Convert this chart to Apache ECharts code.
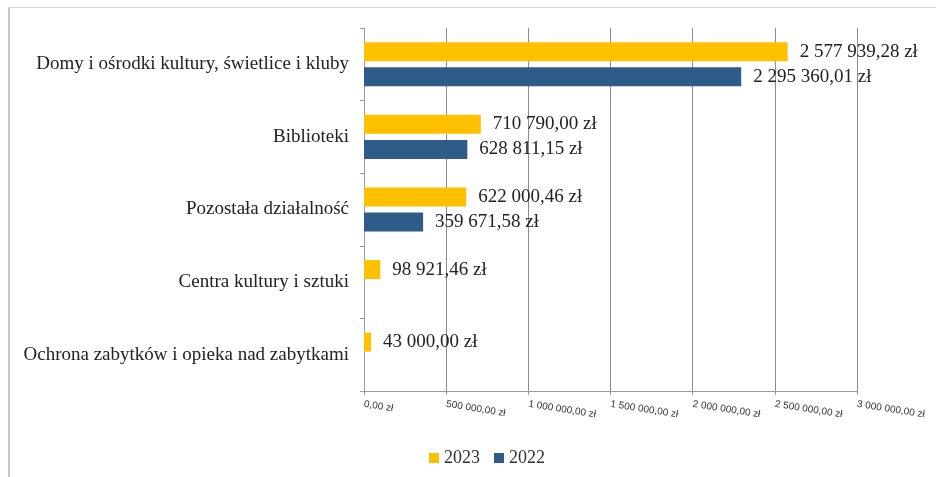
<!DOCTYPE html>
<html>
<head>
<meta charset="utf-8">
<script src="https://cdn.jsdelivr.net/npm/echarts@6/dist/echarts.min.js"></script>
<style>
html, body { margin: 0; padding: 0; background: #fff; }
#frame { position: absolute; left: 8px; top: 7px; width: 940px; height: 480px; border-left: 2px solid #c8c8c8; border-top: 1px solid #d8d8d8; }
#chart { position: absolute; left: 0; top: 0; width: 936px; height: 477px; }
</style>
</head>
<body>
<div id="frame"></div>
<div id="chart"></div>
<script>
// data
var categories = ['Domy i ośrodki kultury, świetlice i kluby', 'Biblioteki', 'Pozostała działalność', 'Centra kultury i sztuki', 'Ochrona zabytków i opieka nad zabytkami'];
var values2023 = [2577939.28, 710790.00, 622000.46, 98921.46, 43000.00];
var values2022 = [2295360.01, 628811.15, 359671.58, null, null];
var seriesNames = ['2023', '2022'];

// "2 577 939,28 zł"
function fmtZl(v) {
  var parts = v.toFixed(2).split('.');
  var intPart = parts[0].replace(/\B(?=(\d{3})+(?!\d))/g, ' ');
  return intPart + ',' + parts[1] + ' zł';
}

var serif = '"Liberation Serif", "Times New Roman", serif';

var myChart = echarts.init(document.getElementById('chart'));
var option = {
  animation: false,
  grid: { left: 364, right: 79, top: 28, bottom: 86 },
  legend: {
    data: seriesNames,
    bottom: 5,
    left: 424,
    itemWidth: 10,
    itemHeight: 10,
    itemGap: 14,
    icon: 'rect',
    textStyle: { fontFamily: serif, fontSize: 18, color: '#333' }
  },
  xAxis: {
    type: 'value',
    min: 0,
    max: 3000000,
    interval: 500000,
    axisLine: { show: true, lineStyle: { color: '#999' } },
    axisTick: { show: true, length: 4, lineStyle: { color: '#999' } },
    splitLine: { lineStyle: { color: '#8c8c8c' } },
    axisLabel: {
      rotate: -9,
      margin: 13,
      fontFamily: '"Liberation Sans", Arial, sans-serif',
      fontSize: 10,
      color: '#333',
      formatter: function (v) { return fmtZl(v); }
    }
  },
  yAxis: {
    type: 'category',
    inverse: true,
    data: categories,
    axisLine: { show: true, lineStyle: { color: '#999' } },
    axisTick: { show: true, length: 4, lineStyle: { color: '#999' } },
    axisLabel: { fontFamily: serif, fontSize: 19, color: '#222', margin: 15 }
  },
  series: [
    {
      name: '2023',
      type: 'bar',
      data: values2023,
      barWidth: 19,
      barGap: '32%',
      itemStyle: { color: '#FFC000' },
      label: {
        show: true, position: 'right', distance: 12,
        fontFamily: serif, fontSize: 19, color: '#222',
        formatter: function (p) { return fmtZl(p.value); }
      }
    },
    {
      name: '2022',
      type: 'bar',
      data: values2022,
      barWidth: 19,
      itemStyle: { color: '#2F5B89' },
      label: {
        show: true, position: 'right', distance: 12,
        fontFamily: serif, fontSize: 19, color: '#222',
        formatter: function (p) { return fmtZl(p.value); }
      }
    }
  ]
};
myChart.setOption(option);
</script>
</body>
</html>
